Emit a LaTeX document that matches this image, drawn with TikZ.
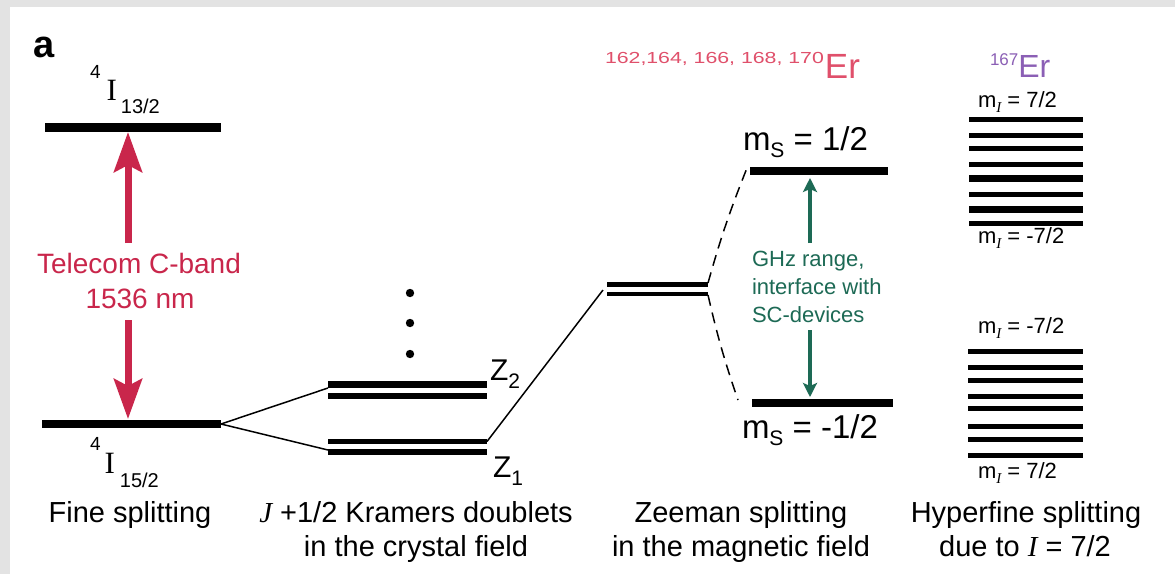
\documentclass[tikz,border=0pt]{standalone}
\usepackage{fontspec}
\setmainfont{Liberation Sans}
\newfontfamily\seriffont{Liberation Serif}
\usetikzlibrary{arrows.meta}
\definecolor{crim}{HTML}{C9264B}
\definecolor{isop}{HTML}{E0506B}
\definecolor{purp}{HTML}{8B5FB5}
\definecolor{grn}{HTML}{1D6A55}
\newcommand\fs[1]{\fontsize{#1}{#1}\selectfont}
\tikzset{
  lvl/.style={line width=#1, black},
  lvl/.default=6pt,
  thin conn/.style={line width=1.5pt, black},
  dashconn/.style={line width=1.5pt, black, dash pattern=on 11pt off 7pt},
  redarrow/.style={line width=7pt, crim, -{Stealth[length=40pt,width=28pt,inset=7pt]}},
  grnarrow/.style={line width=4pt, grn, -{Stealth[length=14pt,width=14pt,inset=3pt]}},
  txt/.style={inner sep=0pt, outer sep=0pt},
}
\begin{document}
\begin{tikzpicture}[x=1pt,y=-1pt]
\useasboundingbox (0,0) rectangle (1175,574);
\fill[gray!22] (0,0) rectangle (1175,574);
\fill[white] (10,7) rectangle (1175,574);

% panel letter
\node[txt, anchor=base west] (pa) at (33,57) {\fs{38}\bfseries a};

% fine levels
\coordinate (f1a) at (45,127);  \coordinate (f1b) at (221,127);
\coordinate (f0a) at (42,424);  \coordinate (f0b) at (221,424);
\draw[lvl=9pt] (f1a) -- (f1b);
\draw[lvl=8pt] (f0a) -- (f0b);

\node[txt, anchor=base west] (l13) at (90,100)
  {\raisebox{22pt}{\fs{19}4}\kern6pt{\fs{31}\seriffont I}\kern4pt\raisebox{-13pt}{\fs{20}13/2}};
\node[txt, anchor=base west] (l15) at (90,473)
  {\raisebox{23pt}{\fs{19}4}\kern4pt{\fs{31}\seriffont I}\kern5pt\raisebox{-14pt}{\fs{20}15/2}};

% telecom
\node[txt, anchor=base, crim, align=center] (tel1) at (139,273) {\fs{28}Telecom C-band};
\node[txt, anchor=base, crim] (tel2) at (140,308) {\fs{28}1536 nm};
\coordinate (ra) at (128,243); \coordinate (rtip1) at (128,132);
\coordinate (rb) at (128,320); \coordinate (rtip2) at (128,419);
\draw[redarrow] (ra) -- (rtip1);
\draw[redarrow] (rb) -- (rtip2);

% Kramers doublets
\coordinate (z2aL) at (328,384.5); \coordinate (z2aR) at (487,384.5);
\coordinate (z2bL) at (328,396);   \coordinate (z2bR) at (487,396);
\coordinate (z1aL) at (328,441.5); \coordinate (z1aR) at (487,441.5);
\coordinate (z1bL) at (328,452);   \coordinate (z1bR) at (487,452);
\draw[lvl=7.5pt] (z2aL) -- (z2aR);
\draw[lvl=6pt] (z2bL) -- (z2bR);
\draw[lvl=5pt] (z1aL) -- (z1aR);
\draw[lvl=6pt] (z1bL) -- (z1bR);
\draw[thin conn] (f0b) -- (328,388);
\draw[thin conn] (f0b) -- (328,450);
\fill (410,293) circle (4.2pt);
\fill (410,323) circle (4.2pt);
\fill (410,354) circle (4.2pt);
\node[txt, anchor=base west] (Z2) at (490,380) {\fs{30}Z\raisebox{-8pt}{\fs{21}2}};
\node[txt, anchor=base west] (Z1) at (493,477) {\fs{30}Z\raisebox{-8pt}{\fs{21}1}};

% middle doublet
\coordinate (mdaL) at (607,284.5); \coordinate (mdaR) at (708,284.5);
\coordinate (mdbL) at (607,294);   \coordinate (mdbR) at (708,294);
\draw[lvl=5pt] (mdaL) -- (mdaR);
\draw[lvl=4.5pt] (mdbL) -- (mdbR);
\draw[thin conn] (z1aR) -- (603,290);

% Zeeman levels
\coordinate (zuL) at (750,171); \coordinate (zuR) at (888,171);
\coordinate (zdL) at (752,402.5); \coordinate (zdR) at (893,402.5);
\draw[lvl=8pt] (zuL) -- (zuR);
\draw[lvl=8pt] (zdL) -- (zdR);
\draw[dashconn] (708,283) to[bend left=3] (747,168);
\draw[dashconn] (708,295) to[bend right=3] (738,400);
\node[txt, anchor=base west] (msu) at (743,150) {\fs{33}m\raisebox{-7pt}{\fs{21}S} = 1/2};
\node[txt, anchor=base west] (msd) at (742,438) {\fs{33}m\raisebox{-7pt}{\fs{21}S} = -1/2};

% GHz
\node[txt, anchor=base west, grn] (g1) at (752,266) {\fs{22}GHz range,};
\node[txt, anchor=base west, grn] (g2) at (752,294) {\fs{22}interface with};
\node[txt, anchor=base west, grn] (g3) at (752,322) {\fs{22}SC-devices};
\coordinate (ga) at (810,243); \coordinate (gtip1) at (810,178);
\coordinate (gb) at (810,330); \coordinate (gtip2) at (810,397);
\draw[grnarrow] (ga) -- (gtip1);
\draw[grnarrow] (gb) -- (gtip2);

% isotope labels
\node[txt, anchor=base west, isop] (iso) at (605,78)
  {\raisebox{15pt}{\scalebox{1.33}[1]{\fs{16}162,164, 166, 168, 170}}\kern1pt{\fs{35}Er}};
\node[txt, anchor=base west, purp] (e167) at (990,77)
  {\raisebox{12pt}{\fs{17}167}{\fs{32}Er}};

% hyperfine groups
\foreach \yy/\ww in {119/5,135/5,148/5,164/5,178/7,194/5,209/7,223/5}{
  \draw[lvl=\ww pt] (969,\yy) -- (1083,\yy);
}
\foreach \yy in {351,367,380,396,408,426,439,455}{
  \draw[lvl=5pt] (968,\yy) -- (1083,\yy);
}
\node[txt, anchor=base west] (mi1) at (978,107) {\fs{22}m\raisebox{-5pt}{\fs{15}\seriffont\itshape I} = 7/2};
\node[txt, anchor=base west] (mi2) at (978,243) {\fs{22}m\raisebox{-5pt}{\fs{15}\seriffont\itshape I} = -7/2};
\node[txt, anchor=base west] (mi3) at (978,333) {\fs{22}m\raisebox{-5pt}{\fs{15}\seriffont\itshape I} = -7/2};
\node[txt, anchor=base west] (mi4) at (978,478) {\fs{22}m\raisebox{-5pt}{\fs{15}\seriffont\itshape I} = 7/2};

% bottom captions
\node[txt, anchor=base] (c1) at (130,522) {\fs{29}Fine splitting};
\node[txt, anchor=base] (c2a) at (416,522) {\fs{29}{\seriffont\itshape J} +1/2 Kramers doublets};
\node[txt, anchor=base] (c2b) at (416,556) {\fs{29}in the crystal field};
\node[txt, anchor=base] (c3a) at (741,522) {\fs{29}Zeeman splitting};
\node[txt, anchor=base] (c3b) at (741,556) {\fs{29}in the magnetic field};
\node[txt, anchor=base] (c4a) at (1026,522) {\fs{29}Hyperfine splitting};
\node[txt, anchor=base] (c4b) at (1025,556) {\fs{29}due to {\seriffont\itshape I} = 7/2};
\end{tikzpicture}
\end{document}
